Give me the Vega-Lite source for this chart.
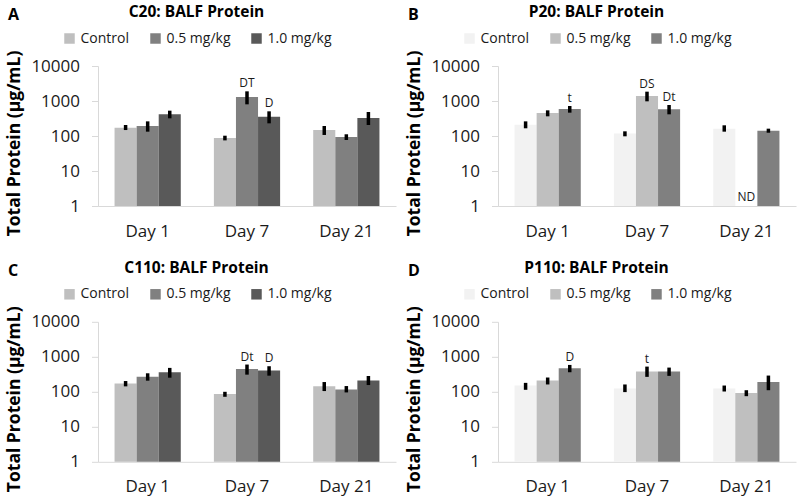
{
  "$schema": "https://vega.github.io/schema/vega-lite/v6.json",
  "background": "white",
  "padding": {"left": 5, "top": 5, "right": 2, "bottom": 2},
  "config": {
    "view": {"stroke": null},
    "font": "Open Sans",
    "title": {"fontSize": 16, "fontWeight": "bold", "font": "Open Sans", "color": "#000000", "anchor": "start", "frame": "bounds", "dy": 22, "dx": 3},
    "axisX": {"ticks": false, "domainColor": "#d9d9d9", "labelPadding": 17, "labelFontSize": 17, "labelColor": "#1a1a1a", "labelAngle": 0, "grid": false, "labelFont": "Open Sans"},
    "axisY": {"domainColor": "#d9d9d9", "tickColor": "#d9d9d9", "tickSize": 6.5, "labelPadding": 12, "labelFontSize": 17, "labelColor": "#1a1a1a", "grid": false, "labelFont": "Open Sans", "titleFont": "Open Sans", "titleFontSize": 17.5, "titleFontWeight": "bold", "titleColor": "#000000", "titleX": -79, "titleY": 77, "titleBaseline": "alphabetic", "titleAngle": -90, "titleAlign": "center"},
    "legend": {"symbolType": "square", "symbolSize": 110, "symbolStrokeWidth": 0, "labelFontSize": 14, "labelFont": "Open Sans", "labelColor": "#1a1a1a", "labelOffset": 4, "columnPadding": 19, "padding": 0, "titleFontSize": 15.5, "titleFont": "Open Sans", "titleFontWeight": "bold", "titleColor": "#000000", "titlePadding": 11, "titleLimit": 400, "labelLimit": 200}
  },
  "datasets": {
    "d": [
      {"panel": "A", "day": "Day 1", "group": "Control", "value": 173, "lo": 148, "hi": 206, "note": null},
      {"panel": "A", "day": "Day 1", "group": "0.5 mg/kg", "value": 193, "lo": 133, "hi": 262, "note": null},
      {"panel": "A", "day": "Day 1", "group": "1.0 mg/kg", "value": 416, "lo": 320, "hi": 529, "note": null},
      {"panel": "A", "day": "Day 7", "group": "Control", "value": 88, "lo": 75, "hi": 102, "note": null},
      {"panel": "A", "day": "Day 7", "group": "0.5 mg/kg", "value": 1301, "lo": 803, "hi": 1889, "note": "DT"},
      {"panel": "A", "day": "Day 7", "group": "1.0 mg/kg", "value": 357, "lo": 230, "hi": 507, "note": "D"},
      {"panel": "A", "day": "Day 21", "group": "Control", "value": 148, "lo": 107, "hi": 193, "note": null},
      {"panel": "A", "day": "Day 21", "group": "0.5 mg/kg", "value": 94, "lo": 77, "hi": 112, "note": null},
      {"panel": "A", "day": "Day 21", "group": "1.0 mg/kg", "value": 327, "lo": 206, "hi": 485, "note": null},
      {"panel": "B", "day": "Day 1", "group": "Control", "value": 211, "lo": 166, "hi": 262, "note": null},
      {"panel": "B", "day": "Day 1", "group": "0.5 mg/kg", "value": 454, "lo": 365, "hi": 541, "note": null},
      {"panel": "B", "day": "Day 1", "group": "1.0 mg/kg", "value": 591, "lo": 464, "hi": 720, "note": "t"},
      {"panel": "B", "day": "Day 7", "group": "Control", "value": 117, "lo": 98, "hi": 136, "note": null},
      {"panel": "B", "day": "Day 7", "group": "0.5 mg/kg", "value": 1389, "lo": 979, "hi": 1848, "note": "DS"},
      {"panel": "B", "day": "Day 7", "group": "1.0 mg/kg", "value": 578, "lo": 416, "hi": 769, "note": "Dt"},
      {"panel": "B", "day": "Day 21", "group": "Control", "value": 162, "lo": 133, "hi": 202, "note": null},
      {"panel": "B", "day": "Day 21", "group": "0.5 mg/kg", "value": null, "lo": null, "hi": null, "note": "ND"},
      {"panel": "B", "day": "Day 21", "group": "1.0 mg/kg", "value": 142, "lo": 124, "hi": 162, "note": null},
      {"panel": "C", "day": "Day 1", "group": "Control", "value": 174, "lo": 143, "hi": 203, "note": null},
      {"panel": "C", "day": "Day 1", "group": "0.5 mg/kg", "value": 271, "lo": 208, "hi": 338, "note": null},
      {"panel": "C", "day": "Day 1", "group": "1.0 mg/kg", "value": 361, "lo": 253, "hi": 482, "note": null},
      {"panel": "C", "day": "Day 7", "group": "Control", "value": 86, "lo": 72, "hi": 100, "note": null},
      {"panel": "C", "day": "Day 7", "group": "0.5 mg/kg", "value": 451, "lo": 309, "hi": 601, "note": "Dt"},
      {"panel": "C", "day": "Day 7", "group": "1.0 mg/kg", "value": 403, "lo": 289, "hi": 538, "note": "D"},
      {"panel": "C", "day": "Day 21", "group": "Control", "value": 143, "lo": 105, "hi": 190, "note": null},
      {"panel": "C", "day": "Day 21", "group": "0.5 mg/kg", "value": 117, "lo": 96, "hi": 146, "note": null},
      {"panel": "C", "day": "Day 21", "group": "1.0 mg/kg", "value": 212, "lo": 156, "hi": 283, "note": null},
      {"panel": "D", "day": "Day 1", "group": "Control", "value": 151, "lo": 114, "hi": 180, "note": null},
      {"panel": "D", "day": "Day 1", "group": "0.5 mg/kg", "value": 210, "lo": 162, "hi": 256, "note": null},
      {"panel": "D", "day": "Day 1", "group": "1.0 mg/kg", "value": 471, "lo": 362, "hi": 586, "note": "D"},
      {"panel": "D", "day": "Day 7", "group": "Control", "value": 124, "lo": 98, "hi": 162, "note": null},
      {"panel": "D", "day": "Day 7", "group": "0.5 mg/kg", "value": 379, "lo": 267, "hi": 525, "note": "t"},
      {"panel": "D", "day": "Day 7", "group": "1.0 mg/kg", "value": 379, "lo": 285, "hi": 492, "note": null},
      {"panel": "D", "day": "Day 21", "group": "Control", "value": 124, "lo": 102, "hi": 151, "note": null},
      {"panel": "D", "day": "Day 21", "group": "0.5 mg/kg", "value": 92, "lo": 75, "hi": 111, "note": null},
      {"panel": "D", "day": "Day 21", "group": "1.0 mg/kg", "value": 192, "lo": 111, "hi": 291, "note": null}
    ]
  },
  "columns": 2,
  "spacing": {"row": 115.8, "column": 102},
  "bounds": "flush",
  "resolve": {"scale": {"color": "independent", "x": "independent", "y": "independent", "xOffset": "independent"}, "legend": {"color": "independent"}, "axis": {"x": "independent", "y": "independent"}},
  "concat": [
    {
      "width": 298, "height": 140,
      "title": {"text": "A"},
      "data": {"name": "d"},
      "transform": [{"filter": "datum.panel == 'A'"}],
      "encoding": {
        "x": {"field": "day", "type": "nominal", "sort": ["Day 1", "Day 7", "Day 21"], "title": null, "scale": {"paddingInner": 0.3333, "paddingOuter": 0.1667}},
        "xOffset": {"field": "group", "type": "nominal", "sort": ["Control", "0.5 mg/kg", "1.0 mg/kg"], "scale": {"paddingInner": 0, "paddingOuter": 0}}
      },
      "layer": [
        {"mark": "bar", "encoding": {
          "y": {"field": "value", "type": "quantitative", "stack": null, "title": "Total Protein (µg/mL)", "scale": {"type": "log", "domain": [1, 10000]}, "axis": {"values": [1, 10, 100, 1000, 10000], "format": "d"}},
          "color": {"field": "group", "type": "nominal", "sort": ["Control", "0.5 mg/kg", "1.0 mg/kg"], "scale": {"domain": ["Control", "0.5 mg/kg", "1.0 mg/kg"], "range": ["#bfbfbf", "#808080", "#595959"]}, "legend": {"orient": "none", "legendX": -35.5, "legendY": -61, "direction": "horizontal", "title": "C20: BALF Protein", "titleOrient": "top", "titleAnchor": "middle"}}
        }},
        {"mark": {"type": "rule", "strokeWidth": 3.5, "color": "#000000"}, "encoding": {
          "y": {"field": "lo", "type": "quantitative", "title": "Total Protein (µg/mL)"},
          "y2": {"field": "hi"}
        }},
        {"transform": [{"filter": "datum.note != null && datum.hi != null"}], "mark": {"type": "text", "fontSize": 12, "font": "Open Sans", "color": "#1a1a1a", "baseline": "alphabetic", "dy": -4, "align": "center"}, "encoding": {
          "y": {"field": "hi", "type": "quantitative", "title": "Total Protein (µg/mL)"},
          "text": {"field": "note"}
        }}
      ]
    },
    {
      "width": 298, "height": 140,
      "title": {"text": "B"},
      "data": {"name": "d"},
      "transform": [{"filter": "datum.panel == 'B'"}],
      "encoding": {
        "x": {"field": "day", "type": "nominal", "sort": ["Day 1", "Day 7", "Day 21"], "title": null, "scale": {"paddingInner": 0.3333, "paddingOuter": 0.1667}},
        "xOffset": {"field": "group", "type": "nominal", "sort": ["Control", "0.5 mg/kg", "1.0 mg/kg"], "scale": {"paddingInner": 0, "paddingOuter": 0}}
      },
      "layer": [
        {"mark": "bar", "encoding": {
          "y": {"field": "value", "type": "quantitative", "stack": null, "title": "Total Protein (µg/mL)", "scale": {"type": "log", "domain": [1, 10000]}, "axis": {"values": [1, 10, 100, 1000, 10000], "format": "d"}},
          "color": {"field": "group", "type": "nominal", "sort": ["Control", "0.5 mg/kg", "1.0 mg/kg"], "scale": {"domain": ["Control", "0.5 mg/kg", "1.0 mg/kg"], "range": ["#f2f2f2", "#bfbfbf", "#808080"]}, "legend": {"orient": "none", "legendX": -35.5, "legendY": -61, "direction": "horizontal", "title": "P20: BALF Protein", "titleOrient": "top", "titleAnchor": "middle"}}
        }},
        {"mark": {"type": "rule", "strokeWidth": 3.5, "color": "#000000"}, "encoding": {
          "y": {"field": "lo", "type": "quantitative", "title": "Total Protein (µg/mL)"},
          "y2": {"field": "hi"}
        }},
        {"transform": [{"filter": "datum.note != null && datum.hi != null"}], "mark": {"type": "text", "fontSize": 12, "font": "Open Sans", "color": "#1a1a1a", "baseline": "alphabetic", "dy": -4, "align": "center"}, "encoding": {
          "y": {"field": "hi", "type": "quantitative", "title": "Total Protein (µg/mL)"},
          "text": {"field": "note"}
        }},
        {"transform": [{"filter": "datum.note == 'ND'"}], "mark": {"type": "text", "fontSize": 12, "font": "Open Sans", "color": "#1a1a1a", "baseline": "alphabetic", "dy": -5.5, "align": "center"}, "encoding": {
          "y": {"datum": 1, "type": "quantitative"},
          "text": {"field": "note"}
        }}
      ]
    },
    {
      "width": 298, "height": 140,
      "title": {"text": "C"},
      "data": {"name": "d"},
      "transform": [{"filter": "datum.panel == 'C'"}],
      "encoding": {
        "x": {"field": "day", "type": "nominal", "sort": ["Day 1", "Day 7", "Day 21"], "title": null, "scale": {"paddingInner": 0.3333, "paddingOuter": 0.1667}},
        "xOffset": {"field": "group", "type": "nominal", "sort": ["Control", "0.5 mg/kg", "1.0 mg/kg"], "scale": {"paddingInner": 0, "paddingOuter": 0}}
      },
      "layer": [
        {"mark": "bar", "encoding": {
          "y": {"field": "value", "type": "quantitative", "stack": null, "title": "Total Protein (µg/mL)", "scale": {"type": "log", "domain": [1, 10000]}, "axis": {"values": [1, 10, 100, 1000, 10000], "format": "d"}},
          "color": {"field": "group", "type": "nominal", "sort": ["Control", "0.5 mg/kg", "1.0 mg/kg"], "scale": {"domain": ["Control", "0.5 mg/kg", "1.0 mg/kg"], "range": ["#bfbfbf", "#808080", "#595959"]}, "legend": {"orient": "none", "legendX": -35.5, "legendY": -61, "direction": "horizontal", "title": "C110: BALF Protein", "titleOrient": "top", "titleAnchor": "middle"}}
        }},
        {"mark": {"type": "rule", "strokeWidth": 3.5, "color": "#000000"}, "encoding": {
          "y": {"field": "lo", "type": "quantitative", "title": "Total Protein (µg/mL)"},
          "y2": {"field": "hi"}
        }},
        {"transform": [{"filter": "datum.note != null && datum.hi != null"}], "mark": {"type": "text", "fontSize": 12, "font": "Open Sans", "color": "#1a1a1a", "baseline": "alphabetic", "dy": -4, "align": "center"}, "encoding": {
          "y": {"field": "hi", "type": "quantitative", "title": "Total Protein (µg/mL)"},
          "text": {"field": "note"}
        }}
      ]
    },
    {
      "width": 298, "height": 140,
      "title": {"text": "D"},
      "data": {"name": "d"},
      "transform": [{"filter": "datum.panel == 'D'"}],
      "encoding": {
        "x": {"field": "day", "type": "nominal", "sort": ["Day 1", "Day 7", "Day 21"], "title": null, "scale": {"paddingInner": 0.3333, "paddingOuter": 0.1667}},
        "xOffset": {"field": "group", "type": "nominal", "sort": ["Control", "0.5 mg/kg", "1.0 mg/kg"], "scale": {"paddingInner": 0, "paddingOuter": 0}}
      },
      "layer": [
        {"mark": "bar", "encoding": {
          "y": {"field": "value", "type": "quantitative", "stack": null, "title": "Total Protein (µg/mL)", "scale": {"type": "log", "domain": [1, 10000]}, "axis": {"values": [1, 10, 100, 1000, 10000], "format": "d"}},
          "color": {"field": "group", "type": "nominal", "sort": ["Control", "0.5 mg/kg", "1.0 mg/kg"], "scale": {"domain": ["Control", "0.5 mg/kg", "1.0 mg/kg"], "range": ["#f2f2f2", "#bfbfbf", "#808080"]}, "legend": {"orient": "none", "legendX": -35.5, "legendY": -61, "direction": "horizontal", "title": "P110: BALF  Protein", "titleOrient": "top", "titleAnchor": "middle"}}
        }},
        {"mark": {"type": "rule", "strokeWidth": 3.5, "color": "#000000"}, "encoding": {
          "y": {"field": "lo", "type": "quantitative", "title": "Total Protein (µg/mL)"},
          "y2": {"field": "hi"}
        }},
        {"transform": [{"filter": "datum.note != null && datum.hi != null"}], "mark": {"type": "text", "fontSize": 12, "font": "Open Sans", "color": "#1a1a1a", "baseline": "alphabetic", "dy": -4, "align": "center"}, "encoding": {
          "y": {"field": "hi", "type": "quantitative", "title": "Total Protein (µg/mL)"},
          "text": {"field": "note"}
        }}
      ]
    }
  ]
}
